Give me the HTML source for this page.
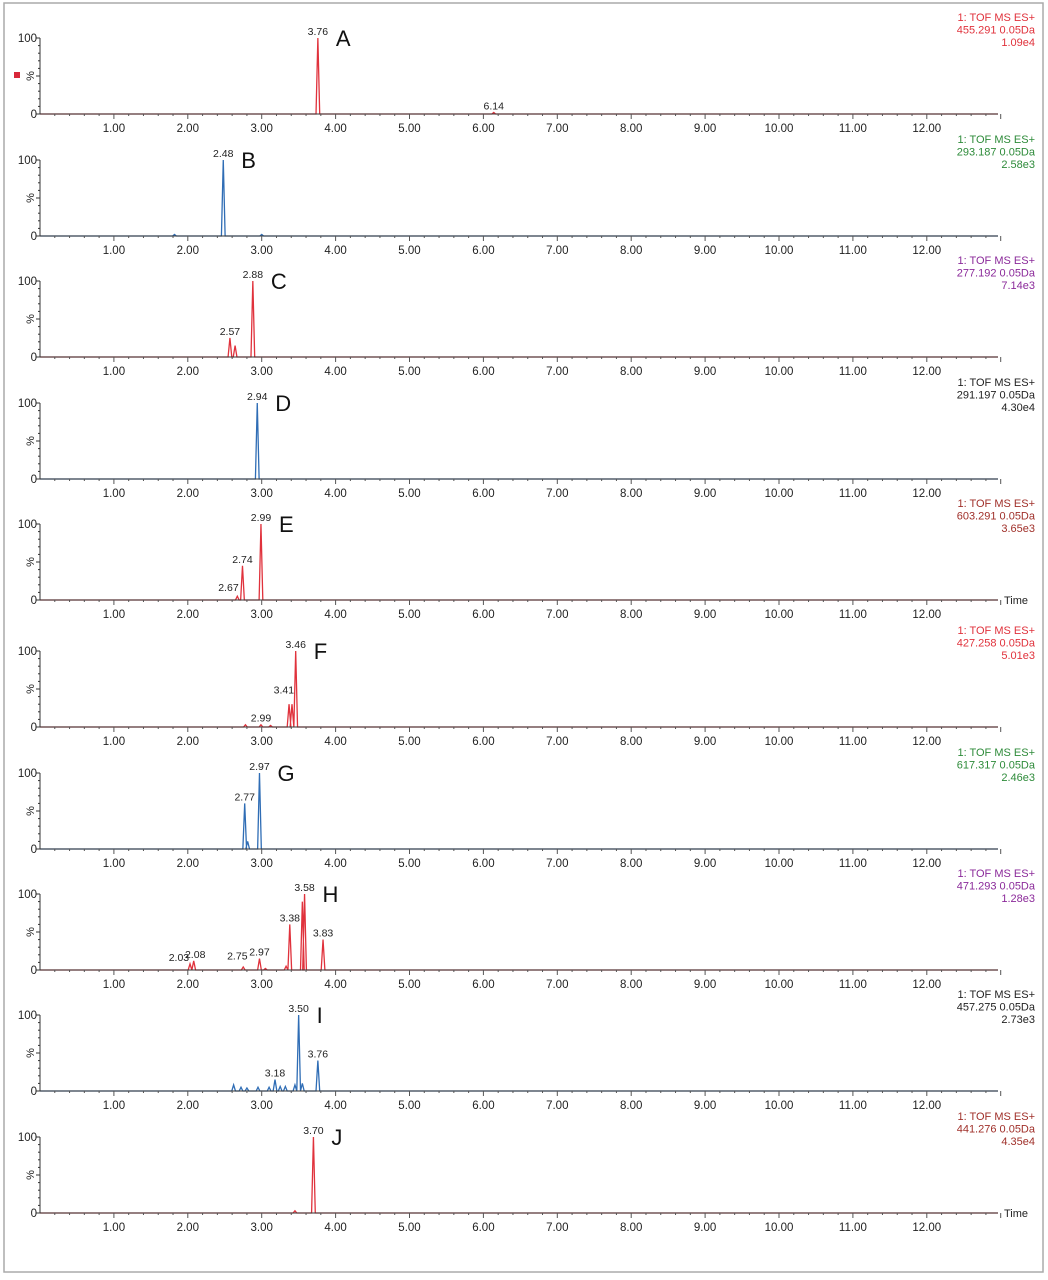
<!DOCTYPE html>
<html><head><meta charset="utf-8"><style>
html,body{margin:0;padding:0;background:#fff;}
svg{display:block;font-family:"Liberation Sans",sans-serif;}
</style></head><body>
<svg id="c" width="1048" height="1280">
<rect x="4" y="3" width="1039" height="1269" fill="#fff" stroke="#aaa" stroke-width="1.5"/>
<rect x="14" y="72" width="6" height="6" fill="#d8283a"/>
</svg>
<script>
const panelLetters=["A","B","C","D","E","F","G","H","I","J"];
const panelMasses=["455.291","293.187","277.192","291.197","603.291","427.258","617.317","471.293","457.275","441.276"];
const panelIntensity=["1.09e4","2.58e3","7.14e3","4.30e4","3.65e3","5.01e3","2.46e3","1.28e3","2.73e3","4.35e4"];
const peakTimes=[
[3.76,6.14],
[1.82,2.48,3.0],
[2.57,2.64,2.88],
[2.94],
[2.67,2.74,2.99],
[2.78,2.99,3.12,3.37,3.41,3.46],
[2.77,2.81,2.97],
[2.03,2.08,2.75,2.97,3.05,3.33,3.38,3.55,3.58,3.83],
[2.62,2.72,2.80,2.95,3.10,3.18,3.25,3.32,3.45,3.50,3.55,3.76],
[3.45,3.70]];
const peakHeights=[
[100,2],
[2,100,2],
[25,15,100],
[100],
[5,45,100],
[3,3,2,30,30,100],
[60,10,100],
[8,12,4,15,2,5,60,90,100,40],
[8,5,4,5,5,15,6,6,8,100,10,40],
[3,100]];
// [text, label time position, label height]
const peakLabels=[
[["3.76",3.76,100],["6.14",6.14,2]],
[["2.48",2.48,100]],
[["2.88",2.88,100],["2.57",2.57,25]],
[["2.94",2.94,100]],
[["2.99",2.99,100],["2.74",2.74,45],["2.67",2.55,8]],
[["3.46",3.46,100],["3.41",3.30,40],["2.99",2.99,3]],
[["2.97",2.97,100],["2.77",2.77,60]],
[["3.58",3.58,100],["3.38",3.38,60],["3.83",3.83,40],["2.97",2.97,15],["2.75",2.67,10],["2.08",2.10,12],["2.03",1.88,8]],
[["3.50",3.50,100],["3.76",3.76,40],["3.18",3.18,15]],
[["3.70",3.70,100]]];
const xTicks=[1,2,3,4,5,6,7,8,9,10,11,12];
const traceColors=["#e0323c","#2f6db5","#e0323c","#2f6db5","#e0323c","#e0323c","#2f6db5","#e0323c","#2f6db5","#e0323c"];
const headColors=["#e0323c","#2e8b3a","#8b2a9a","#222","#a0302a","#e0323c","#2e8b3a","#8b2a9a","#222","#a0302a"];
const baselines=[114,236,357,479,600,727,849,970,1091,1213];
const showTime=[false,false,false,false,true,false,false,false,false,true];

const svg=document.getElementById('c');
const NS="http://www.w3.org/2000/svg";
const X0=40,PX=73.9,H=76;
const xs=t=>X0+t*PX;
function mk(tag,attrs,parent){const e=document.createElementNS(NS,tag);for(const k in attrs)e.setAttribute(k,attrs[k]);(parent||svg).appendChild(e);return e;}
for(let p=0;p<10;p++){
  const b=baselines[p];const ys=v=>b-v/100*H;
  const g=mk('g',{});
  
  
  let d="M"+X0+","+b;
  const pts=[];
  for(let i=0;i<peakTimes[p].length;i++)pts.push([peakTimes[p][i],peakHeights[p][i]]);
  pts.sort((a,c)=>a[0]-c[0]);
  const w=0.025;
  for(const [t,h] of pts){d+=" L"+xs(t-w)+","+b+" L"+xs(t)+","+ys(h)+" L"+xs(t+w)+","+b;}
  d+=" L998,"+b;
  const tr=mk('path',{d:d,fill:'none',stroke:traceColors[p],'stroke-width':1.3},g);
  
  
  const ax=mk('path',{d:`M${X0},${b-H} L${X0},${b} L998,${b}`,fill:'none',stroke:'#333','stroke-width':1},g);
  
  
  for(let v=0;v<=100;v+=10){mk('line',{x1:X0-(v%50?2:4),x2:X0,y1:ys(v),y2:ys(v),stroke:'#333'},g);}
  for(let t=0.2;t<13;t+=0.2){const major=Math.abs(t-Math.round(t))<0.01;const half=Math.abs(t*2-Math.round(t*2))<0.01;mk('line',{x1:xs(t),x2:xs(t),y1:b,y2:b+(major?5:half?4:2),stroke:'#555'},g);}
  for(const t of xTicks){const tl=mk('text',{x:xs(t),y:b+18,'font-size':11.5,'text-anchor':'middle',fill:'#222'},g);tl.textContent=t.toFixed(2);
    
    }
  const y1=mk('text',{x:X0-3,y:ys(100)+4,'font-size':11.5,'text-anchor':'end',fill:'#222'},g);y1.textContent="100";
  
  
  const y0=mk('text',{x:X0-3,y:b+4,'font-size':11.5,'text-anchor':'end',fill:'#222'},g);y0.textContent="0";
  
  
  const yt=mk('text',{x:0,y:0,'font-size':11,'text-anchor':'middle',fill:'#222',transform:`translate(${X0-6},${ys(50)}) rotate(-90)`},g);yt.textContent="%";
  
  
  for(const [s,t,h] of peakLabels[p]){const pl=mk('text',{x:xs(t),y:ys(h)-3,'font-size':10.5,'text-anchor':'middle',fill:'#222'},g);pl.textContent=s;
    
    }
  const main=peakLabels[p][0];
  const lt=mk('text',{x:xs(main[1])+18,y:ys(100)+8,'font-size':22,fill:'#111'},g);lt.textContent=panelLetters[p];
  
  
  const lines=["1: TOF MS ES+",panelMasses[p]+" 0.05Da",panelIntensity[p]];
  for(let i=0;i<3;i++){const ht=mk('text',{x:1035,y:b-93+i*12.5,'font-size':11,'text-anchor':'end',fill:headColors[p]},g);ht.textContent=lines[i];
    
    }
  if(showTime[p]){const tt=mk('text',{x:1004,y:b+4,'font-size':11,fill:'#222'},g);tt.textContent="Time";
    
    }
}
</script>
</body></html>
